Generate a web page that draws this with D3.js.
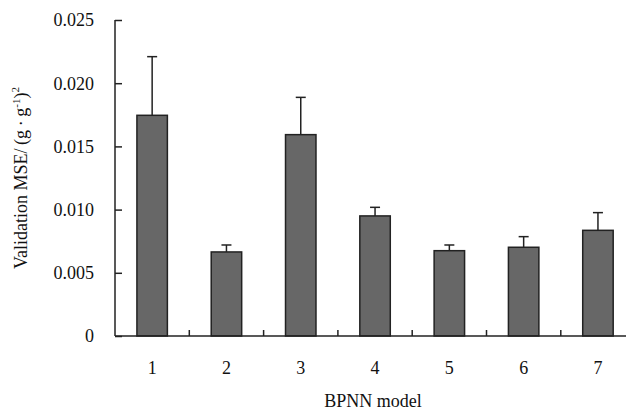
<!DOCTYPE html>
<html><head><meta charset="utf-8">
<script src="https://cdn.jsdelivr.net/npm/d3@7"></script>
<style>body{margin:0;background:#fff}svg{display:block}text{font-family:"Liberation Serif","Times New Roman",serif}</style>
</head><body>
<script>
const categories = ["1","2","3","4","5","6","7"];
const values = [0.01746, 0.00665, 0.01593, 0.0095, 0.00675, 0.00702, 0.00836];
const errors = [0.00464, 0.00055, 0.00295, 0.00068, 0.00045, 0.00084, 0.0014];
const yTicks = [0, 0.005, 0.010, 0.015, 0.020, 0.025];
const yTickLabels = ["0","0.005","0.010","0.015","0.020","0.025"];

(function(){
const W = 626, H = 412;
const svg = d3.select("body").append("svg").attr("width", W).attr("height", H);
const mLeft = 115, bandW = 74.3, mTop = 20, mBottom = 336;
const x = d3.scaleBand().domain(categories).range([mLeft, mLeft + bandW * categories.length]).paddingInner(0.59).paddingOuter(0.295);
const y = d3.scaleLinear().domain([0, 0.025]).range([mBottom, mTop]);
const fs = 18;
const c = "#222";
svg.selectAll("rect.bar").data(values).enter().append("rect")
  .attr("x", (d,i) => x(categories[i])).attr("width", x.bandwidth())
  .attr("y", d => y(d)).attr("height", d => mBottom - y(d))
  .attr("fill", "#676767").attr("stroke", c).attr("stroke-width", 1.5);
const eg = svg.append("g").attr("stroke", c).attr("stroke-width", 1.5);
values.forEach((v,i) => {
  const cx = x(categories[i]) + x.bandwidth()/2;
  eg.append("line").attr("x1", cx).attr("x2", cx).attr("y1", y(v)).attr("y2", y(v+errors[i]));
  eg.append("line").attr("x1", cx-5).attr("x2", cx+5).attr("y1", y(v+errors[i])).attr("y2", y(v+errors[i]));
});
const yAxis = d3.axisRight(y).tickValues(yTicks).tickSize(7).tickFormat("");
const ya = svg.append("g").attr("transform", `translate(${mLeft},0)`).call(yAxis);
ya.select(".domain").attr("stroke", c).attr("stroke-width", 1.5).attr("d", `M0,${mTop}V${mBottom}`);
ya.selectAll(".tick line").attr("stroke", c).attr("stroke-width", 1.5);
svg.selectAll("text.ylab").data(yTicks).enter().append("text")
  .attr("x", 94).attr("y", d => y(d)).attr("dy", "0.35em").attr("text-anchor", "end")
  .attr("font-size", fs).attr("fill", "#111").text((d,i) => yTickLabels[i]);
const xa = svg.append("g");
xa.append("line").attr("x1", mLeft).attr("x2", W).attr("y1", mBottom).attr("y2", mBottom).attr("stroke", c).attr("stroke-width", 1.5);
categories.slice(1).forEach((d,i) => {
  const px = mLeft + x.step()*(i+1);
  xa.append("line").attr("x1", px).attr("x2", px).attr("y1", mBottom).attr("y2", mBottom-6).attr("stroke", c).attr("stroke-width", 1.5);
});
svg.selectAll("text.xlab").data(categories).enter().append("text")
  .attr("x", d => x(d) + x.bandwidth()/2).attr("y", 374).attr("text-anchor", "middle")
  .attr("font-size", fs).attr("fill", "#111").text(d => d);
svg.append("text").attr("x", 373).attr("y", 407).attr("text-anchor", "middle")
  .attr("font-size", fs).attr("fill", "#111").text("BPNN model");
const yt = svg.append("text").attr("transform", "translate(27,178) rotate(-90)")
  .attr("text-anchor", "middle").attr("font-size", fs).attr("fill", "#111");
yt.append("tspan").text("Validation MSE/\u2009(g\u2009·\u2009g");
yt.append("tspan").attr("font-size", 11).attr("dy", -7).text("-1");
yt.append("tspan").attr("dy", 7).text(")");
yt.append("tspan").attr("font-size", 11).attr("dy", -8).text("2");
})();
</script>
</body></html>
